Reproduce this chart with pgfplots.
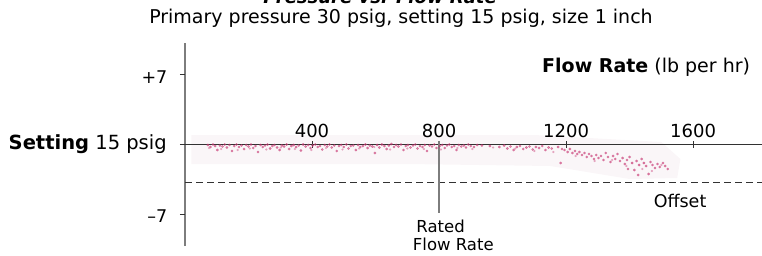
\documentclass[border=0pt]{standalone}
\usepackage{pgfplots}
\pgfplotsset{compat=1.18}
\usepackage{fontspec}
\setmainfont{DejaVu Sans}
\definecolor{dotc}{RGB}{200,55,115}
\definecolor{haze}{RGB}{250,246,248}
\definecolor{axgray}{RGB}{125,125,125}
\definecolor{lined}{RGB}{50,50,50}
\begin{document}
\begin{tikzpicture}
\useasboundingbox (0pt,0pt) rectangle (762pt,255pt);
\node[anchor=base, font=\fontsize{18}{20}\selectfont\bfseries\itshape] at (380pt,251pt) {Pressure vs. Flow Rate};
\node[anchor=base, font=\fontsize{19}{21}\selectfont] at (401pt,231pt) {Primary pressure 30 psig, setting 15 psig, size 1 inch};
\begin{axis}[at={(185pt,9pt)}, anchor=south west, scale only axis, width=577pt, height=203pt,
  xmin=0, xmax=1817, ymin=-10.2, ymax=10.1, axis lines=none, clip=false, ticks=none]
\addplot[fill=haze, draw=none, forget plot] coordinates {
(20,0.9) (1100,0.9) (1500,0.2) (1560,-1.5) (1550,-3.4) (1400,-3.5) (1150,-2.2) (700,-2.0) (20,-2.0)};
% scatter
\addplot[only marks, mark=*, mark size=1.15pt, color=dotc, opacity=0.55, forget plot] coordinates {
(72,-0.1) (80,-0.3) (88,-0.05) (95,-0.2) (102,-0.6) (110,-0.15) (118,-0.25) (125,-0.05) (132,-0.35) (140,-0.1)
(148,-0.7) (155,-0.2) (162,-0.05) (170,-0.3) (178,-0.15) (186,-0.5) (193,-0.1) (200,-0.25) (208,-0.05) (215,-0.4)
(222,-0.2) (230,-0.8) (238,-0.1) (245,-0.3) (252,-0.15) (260,-0.05) (268,-0.45) (275,-0.2) (282,-0.1) (290,-0.35)
(298,-0.6) (305,-0.15) (312,-0.25) (320,-0.05) (328,-0.5) (335,-0.2) (342,-0.1) (350,-0.3) (358,-0.15) (365,-0.65)
(372,-0.05) (380,-0.25) (388,-0.1) (395,-0.4)
(402,-0.15) (410,-0.05) (418,-0.3) (425,-0.2) (432,-0.55) (440,-0.1) (448,-0.25) (455,-0.05) (462,-0.35) (470,-0.15)
(478,-0.7) (485,-0.2) (492,-0.1) (500,-0.3) (508,-0.05) (515,-0.45) (522,-0.2) (530,-0.15) (538,-0.6) (545,-0.1)
(552,-0.3) (560,-0.2) (568,-0.05) (575,-0.4) (582,-0.15) (590,-0.25) (598,-0.9) (605,-0.1) (612,-0.35) (620,-0.05)
(628,-0.2) (635,-0.5) (642,-0.15) (650,0.0) (658,-0.3) (665,-0.1) (672,-0.25) (680,-0.05) (688,-0.6) (695,-0.2)
(702,-0.1) (710,-0.35) (718,-0.15) (725,-0.05) (732,-0.45) (740,-0.2) (748,-0.3) (755,-0.1) (762,-0.7) (770,-0.15)
(778,-0.25) (785,-0.05) (792,-0.4)
(802,-0.2) (810,-0.1) (818,-0.4) (825,-0.15) (832,-0.05) (840,-0.3) (848,-0.2) (855,-0.6) (862,-0.1) (870,-0.25)
(878,-0.15) (885,-0.35) (892,-0.05) (900,-0.2) (910,-0.3) (920,-0.1) (935,-0.15) (960,-0.2) (990,-0.3) (1005,-0.15)
(1015,-0.45) (1025,-0.25) (1035,-0.6) (1045,-0.3) (1055,-0.2) (1065,-0.5) (1075,-0.35) (1085,-0.25) (1095,-0.55) (1105,-0.3)
(1115,-0.4) (1125,-0.2) (1135,-0.6) (1145,-0.35) (1155,-0.45) (1175,-0.3) (1183,-1.9) (1187,-0.5)
(1195,-0.6) (1205,-0.8) (1212,-0.5) (1220,-0.9) (1228,-0.7) (1235,-1.0) (1242,-0.8) (1250,-1.1) (1258,-0.9) (1265,-1.3)
(1272,-1.0) (1280,-1.2) (1288,-1.5) (1295,-1.1) (1302,-1.4) (1310,-1.2) (1318,-1.6) (1325,-0.9) (1332,-1.3) (1340,-1.8)
(1348,-1.2) (1355,-1.5) (1362,-1.0) (1370,-1.7) (1378,-1.4) (1385,-2.0) (1392,-1.6) (1400,-1.3) (1408,-1.9) (1415,-2.6)
(1422,-1.7) (1430,-2.1) (1438,-1.5) (1445,-1.9) (1452,-2.2) (1460,-3.0) (1466,-1.8) (1472,-2.1) (1480,-2.4) (1488,-2.0)
(1495,-2.3) (1505,-1.9) (1512,-2.2) (1520,-2.5) (1427,-3.1) (1395,-2.5)
};
\addplot[only marks, mark=*, mark size=0.95pt, color=dotc!60, opacity=0.6, forget plot] coordinates {
(76,-0.4) (114,-0.5) (166,-0.6) (204,-0.45) (256,-0.55) (302,-0.35) (346,-0.5) (398,-0.6) (444,-0.4) (496,-0.55)
(548,-0.45) (596,-0.3) (646,-0.55) (700,-0.45) (752,-0.5) (806,-0.55) (858,-0.4) (905,-0.5) (970,-0.35) (1040,-0.45)
(1100,-0.7) (1160,-0.8) (1230,-1.2) (1290,-1.7) (1345,-1.6) (1390,-2.2) (1440,-2.5) (1470,-2.7) (1500,-2.1)
};
% axes and reference lines
\draw[axgray, line width=1.3pt] (axis cs:0,-10.2) -- (axis cs:0,10.1);
\draw[lined, line width=0.9pt] (axis cs:-16,0) -- (axis cs:1817,0);
\draw[lined, line width=0.8pt, dash pattern=on 6.5pt off 4.5pt] (axis cs:0,-3.8) -- (axis cs:1817,-3.8);
\draw[axgray, line width=1.3pt] (axis cs:800,0.3) -- (axis cs:800,-6.9);
\draw[lined, line width=0.8pt] (axis cs:-16,7) -- (axis cs:0,7);
\draw[lined, line width=0.8pt] (axis cs:-16,-7) -- (axis cs:0,-7);
\draw[lined, line width=0.8pt] (axis cs:400,-0.35) -- (axis cs:400,0.35);
\draw[lined, line width=0.8pt] (axis cs:1200,-0.35) -- (axis cs:1200,0.35);
\draw[lined, line width=0.8pt] (axis cs:1600,-0.35) -- (axis cs:1600,0.35);
% tick labels
\node[anchor=base, font=\fontsize{18}{20}\selectfont] at (axis cs:400,0.7) {400};
\node[anchor=base, font=\fontsize{18}{20}\selectfont] at (axis cs:800,0.7) {800};
\node[anchor=base, font=\fontsize{18}{20}\selectfont] at (axis cs:1200,0.7) {1200};
\node[anchor=base, font=\fontsize{18}{20}\selectfont] at (axis cs:1600,0.7) {1600};
\node[anchor=base east, font=\fontsize{17.5}{20}\selectfont, inner sep=0pt] at (axis cs:-55,6.1) {+7};
\node[anchor=base east, font=\fontsize{17.5}{20}\selectfont, inner sep=0pt] at (axis cs:-55,-7.8) {\textendash 7};
\node[anchor=base east, font=\fontsize{19.5}{22}\selectfont, inner sep=0pt] at (axis cs:-57,-0.55) {\textbf{Setting} 15 psig};
\node[anchor=base east, font=\fontsize{19}{21}\selectfont, inner sep=0pt] at (axis cs:1780,7.2) {\textbf{Flow Rate} (lb per hr)};
\node[anchor=base, font=\fontsize{17.5}{20}\selectfont, inner sep=0pt] at (axis cs:1559,-6.3) {Offset};
\node[anchor=base, font=\fontsize{16.5}{20}\selectfont, inner sep=0pt] at (axis cs:805,-8.8) {Rated};
\node[anchor=base, font=\fontsize{16.5}{20}\selectfont, inner sep=0pt] at (axis cs:845,-10.6) {Flow Rate};
\end{axis}
\end{tikzpicture}
\end{document}
